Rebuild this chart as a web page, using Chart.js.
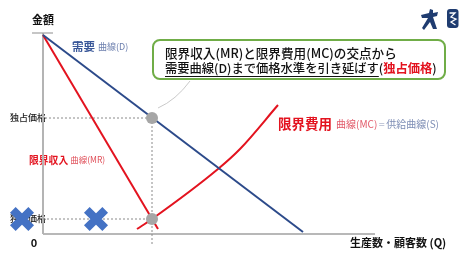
<!DOCTYPE html>
<html>
<head>
<meta charset="utf-8">
<script src="https://cdn.jsdelivr.net/npm/chart.js@4/dist/chart.umd.min.js"></script>
<style>
  html, body { margin: 0; padding: 0; background: #ffffff; }
  #wrap { width: 474px; height: 262px; }
</style>
</head>
<body>
<div id="wrap"><canvas id="c" width="474" height="262"></canvas></div>
<script>
// Price (y) vs. quantity (x); the price axis sits at x = 0
const demandCurve     = [{x: 0, y: 99.5}, {x: 65, y: 1}];
const marginalRevenue = [{x: 0, y: 99.5}, {x: 28.75, y: 2.5}];
const marginalCost    = [{x: 23.5, y: 2.5}, {x: 27.25, y: 7.5}, {x: 43.75, y: 32.5}, {x: 49.25, y: 42.5}, {x: 58.75, y: 64.5}];
const monopolyQ       = 27.25;
const monopolyPrice   = 58;
const mrMcPrice       = 7.5;
const crossMarks      = [{x: -5.25, y: 7.5}, {x: 13.25, y: 7.5}];
const axisX           = [{x: 0, y: 0}, {x: 83, y: 0}];
const axisY           = [{x: 0, y: 0}, {x: 0, y: 100.5}];
const axisTopTick     = [{x: -2.75, y: 100.5}, {x: 2.5, y: 100.5}];
const priceLabel      = '独占価格';

const JP = '"Noto Sans CJK JP", "Noto Sans", sans-serif';
const BLUE = '#2c4a8a';
const RED = '#e3131f';

const keyPoints = [{x: monopolyQ, y: monopolyPrice}, {x: monopolyQ, y: mrMcPrice}];
const guideTop = [{x: 0.5, y: monopolyPrice}, {x: monopolyQ, y: monopolyPrice}];
const guideLow = [{x: 0, y: mrMcPrice}, {x: monopolyQ, y: mrMcPrice}];
const guideVert = [{x: monopolyQ, y: monopolyPrice}, {x: monopolyQ, y: -5.5}];

function line(data, color, width, dash) {
  return {
    data, showLine: true, borderColor: color, borderWidth: width,
    borderDash: dash || [], pointRadius: 0, pointHoverRadius: 0,
    fill: false, clip: false
  };
}

// Write a sequence of styled text runs on one baseline
function runs(ctx, x, y, parts) {
  ctx.textBaseline = 'middle';
  ctx.textAlign = 'left';
  for (const p of parts) {
    ctx.font = p.f;
    ctx.fillStyle = p.c;
    ctx.fillText(p.t, x, y);
    const w = ctx.measureText(p.t).width;
    if (p.u) {
      ctx.strokeStyle = p.c;
      ctx.lineWidth = 1;
      ctx.beginPath();
      ctx.moveTo(x, y + 8.5);
      ctx.lineTo(x + w, y + 8.5);
      ctx.stroke();
    }
    x += w + (p.g || 0);
  }
  return x;
}

function fitSize(ctx, text, weight, base, target) {
  ctx.font = weight + ' ' + base + 'px ' + JP;
  return base * target / ctx.measureText(text).width;
}

const annotations = {
  id: 'annotations',
  beforeDatasetsDraw(chart) {
    const ctx = chart.ctx;
    const xs = chart.scales.x, ys = chart.scales.y;
    ctx.save();

    // axis titles
    ctx.textAlign = 'center';
    ctx.textBaseline = 'middle';
    ctx.fillStyle = '#111';
    ctx.font = 'bold 11px ' + JP;
    ctx.fillText('金額', xs.getPixelForValue(0), 20);
    ctx.font = 'bold 11px ' + JP;
    ctx.fillText('0', 34, 243);
    runs(ctx, 350, 243, [{t: '生産数・顧客数 (Q)', f: 'bold 11px ' + JP, c: '#111'}]);

    // price labels on the vertical axis
    ctx.textAlign = 'right';
    ctx.font = '500 9px ' + JP;
    ctx.fillStyle = '#222';
    ctx.fillText(priceLabel, 46, ys.getPixelForValue(monopolyPrice));
    ctx.fillText(priceLabel, 46, ys.getPixelForValue(mrMcPrice));

    // curve names
    runs(ctx, 72, 47, [
      {t: '需要', f: 'bold 11.5px ' + JP, c: '#3a5899', g: 3},
      {t: '曲線(D)', f: '9px ' + JP, c: '#6c7fae'}
    ]);
    runs(ctx, 29, 160, [
      {t: '限界収入', f: 'bold 9.8px ' + JP, c: RED, g: 2},
      {t: '曲線(MR)', f: '8.5px ' + JP, c: '#e0505a'}
    ]);
    runs(ctx, 278, 124, [
      {t: '限界費用', f: 'bold 13.5px ' + JP, c: RED, g: 4},
      {t: '曲線(MC)', f: '10px ' + JP, c: '#e25a6a', g: 1},
      {t: '＝', f: '7px ' + JP, c: '#8e98b8', g: 1},
      {t: '供給曲線(S)', f: '10px ' + JP, c: '#7d8db5'}
    ]);

    // callout
    ctx.strokeStyle = '#c9c9c9';
    ctx.lineWidth = 1;
    ctx.beginPath();
    ctx.moveTo(190, 81);
    ctx.quadraticCurveTo(176, 100, 158, 108);
    ctx.stroke();

    ctx.fillStyle = '#ffffff';
    ctx.strokeStyle = '#70ad47';
    ctx.lineWidth = 2;
    ctx.beginPath();
    ctx.roundRect(153, 40, 292, 39, 7);
    ctx.fill();
    ctx.stroke();

    const t1 = '限界収入(MR)と限界費用(MC)の交点から';
    const s1 = fitSize(ctx, t1, '500', 13, 232);
    runs(ctx, 165, 53, [{t: t1, f: '500 ' + s1.toFixed(2) + 'px ' + JP, c: '#111'}]);
    const t2a = '需要曲線(D)まで価格水準を引き延ばす';
    const s2 = fitSize(ctx, t2a + '(独占価格)', '500', 13, 272);
    const f2 = s2.toFixed(2) + 'px ' + JP;
    runs(ctx, 165, 68, [
      {t: t2a, f: '500 ' + f2, c: '#111', u: true},
      {t: '(', f: '500 ' + f2, c: '#111'},
      {t: priceLabel, f: 'bold ' + f2, c: RED},
      {t: ')', f: '500 ' + f2, c: '#111'}
    ]);

    ctx.restore();
  },
  afterDraw(chart) {
    // small emblem in the top-right corner
    const ctx = chart.ctx;
    ctx.save();
    ctx.fillStyle = '#1f3c70';
    ctx.beginPath();
    ctx.moveTo(421, 15); ctx.lineTo(429, 13); ctx.lineTo(430, 9); ctx.lineTo(433, 10);
    ctx.lineTo(433, 13); ctx.lineTo(438, 12); ctx.lineTo(437, 16); ctx.lineTo(433, 17);
    ctx.lineTo(437, 29); ctx.lineTo(433, 29); ctx.lineTo(430, 22); ctx.lineTo(424, 30);
    ctx.lineTo(422, 28); ctx.lineTo(428, 18); ctx.lineTo(422, 18);
    ctx.closePath();
    ctx.fill();
    ctx.beginPath();
    ctx.roundRect(447, 9, 11.5, 19, 3);
    ctx.fill();
    ctx.strokeStyle = '#ffffff';
    ctx.lineWidth = 1.3;
    ctx.beginPath();
    ctx.moveTo(449.5, 13); ctx.lineTo(455, 13); ctx.lineTo(451, 17); ctx.lineTo(456, 19);
    ctx.lineTo(451, 22); ctx.lineTo(455.5, 25);
    ctx.stroke();
    ctx.restore();
  }
};

new Chart(document.getElementById('c'), {
  type: 'scatter',
  data: {
    datasets: [
      {
        data: crossMarks, pointStyle: 'crossRot', pointRadius: 13, pointHoverRadius: 13,
        borderColor: '#4472c4', pointBorderColor: '#4472c4', pointBorderWidth: 8,
        pointHoverBorderWidth: 8, showLine: false, clip: false
      },
      {
        data: keyPoints, pointRadius: 6, pointHoverRadius: 6,
        backgroundColor: '#a6a6a6', borderColor: '#a6a6a6', borderWidth: 0,
        showLine: false, clip: false
      },
      line(demandCurve, BLUE, 2),
      line(marginalRevenue, RED, 2),
      Object.assign(line(marginalCost, RED, 2), {tension: 0.4, cubicInterpolationMode: 'monotone'}),
      line(guideTop, '#8a8a8a', 1, [2, 2]),
      line(guideLow, '#8a8a8a', 1, [2, 2]),
      line(guideVert, '#8a8a8a', 1, [2, 2]),
      line(axisTopTick, '#a0a0a0', 1.2),
      line(axisY, '#b4b4b4', 2),
      line(axisX, '#a0a0a0', 1.5)
    ]
  },
  options: {
    responsive: false,
    animation: false,
    devicePixelRatio: 1,
    layout: {autoPadding: false, padding: {left: 10, right: 31, top: 34, bottom: 28}},
    plugins: {legend: {display: false}, tooltip: {enabled: false}},
    events: [],
    scales: {
      x: {type: 'linear', min: -8.25, max: 100, display: false},
      y: {type: 'linear', min: 0, max: 100, display: false}
    }
  },
  plugins: [annotations]
});
</script>
</body>
</html>
